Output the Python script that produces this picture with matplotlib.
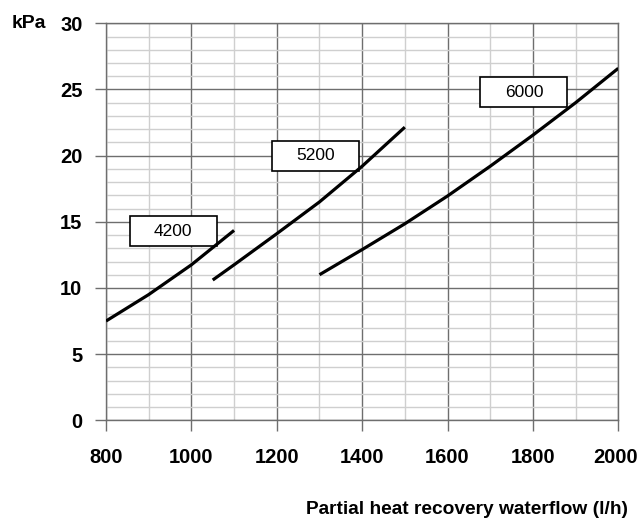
import numpy as np
import matplotlib
matplotlib.use('Agg')
import matplotlib.pyplot as plt
import matplotlib.transforms as mtransforms
from matplotlib.patches import Rectangle
from matplotlib.ticker import MultipleLocator

plt.rcParams['font.family'] = ['Liberation Sans', 'DejaVu Sans']

## curves (flow l/h, pressure drop kPa)
flow_4200 = [800, 900, 1000, 1100]
kpa_4200 = [7.5, 9.5, 11.75, 14.35]

flow_5200 = [1050, 1100, 1200, 1300, 1400, 1500]
kpa_5200 = [10.6, 11.75, 14.1, 16.5, 19.2, 22.15]

flow_6000 = [1300, 1400, 1500, 1600, 1700, 1800, 1900, 2000]
kpa_6000 = [11.0, 12.9, 14.85, 16.95, 19.2, 21.55, 24.0, 26.6]

curve_names = ['4200', '5200', '6000']
label_x = [957, 1290, 1779]
label_y = [14.3, 20.0, 24.8]

x_ticks = [800, 1000, 1200, 1400, 1600, 1800, 2000]
y_ticks = [0, 5, 10, 15, 20, 25, 30]

fig = plt.figure(figsize=(6.39, 5.23), dpi=100)
ax = fig.add_axes([106/639, 1-420.3/523, (618.3-106)/639, (420.3-23.3)/523])

ax.set_xlim(800, 2000)
ax.set_ylim(0, 30)

# grid: light every 100 / 1 kPa, darker every 200 / 5 kPa
ax.xaxis.set_major_locator(MultipleLocator(200))
ax.xaxis.set_minor_locator(MultipleLocator(100))
ax.yaxis.set_major_locator(MultipleLocator(5))
ax.yaxis.set_minor_locator(MultipleLocator(1))
ax.grid(which='minor', color='#cfcfcf', lw=1.0)
ax.grid(which='major', color='#6e6e6e', lw=1.0)
ax.set_axisbelow(True)
for s in ax.spines.values():
    s.set_color('#6e6e6e')
    s.set_linewidth(1.0)

ax.set_xticks(x_ticks)
ax.set_yticks(y_ticks)
ax.tick_params(which='major', length=8, width=1.0, color='#6e6e6e',
               labelsize=14.5)
ax.tick_params(axis='x', pad=12)
ax.tick_params(axis='y', pad=9)
ax.tick_params(which='minor', length=0)
for lab in ax.get_xticklabels() + ax.get_yticklabels():
    lab.set_fontweight('bold')

# last x label sits a little left so it stays inside the picture
last = ax.get_xticklabels()[-1]
last.set_transform(last.get_transform() +
                   mtransforms.ScaledTranslation(-3/100, 0, fig.dpi_scale_trans))

for fx, ky in [(flow_4200, kpa_4200), (flow_5200, kpa_5200), (flow_6000, kpa_6000)]:
    ax.plot(fx, ky, color='black', lw=2.3, zorder=4, solid_capstyle='butt')

# boxed curve labels, box ~87x30 px
bw = 87 / ((618.3-106)/1200)
bh = 30 / ((420.3-23.3)/30)
for name, lx, ly in zip(curve_names, label_x, label_y):
    ax.add_patch(Rectangle((lx - bw/2, ly - bh/2), bw, bh, facecolor='white',
                           edgecolor='black', lw=1.2, zorder=3))
    ax.text(lx, ly, name, ha='center', va='center', fontsize=12.5, zorder=5)

fig.text(12/639, 1-24/523, 'kPa', ha='left', va='center', fontsize=14,
         fontweight='bold')
fig.text(628/639, 1-509/523, 'Partial heat recovery waterflow (l/h)',
         ha='right', va='center', fontsize=13.8, fontweight='bold')

plt.savefig('out.png', dpi=100)
